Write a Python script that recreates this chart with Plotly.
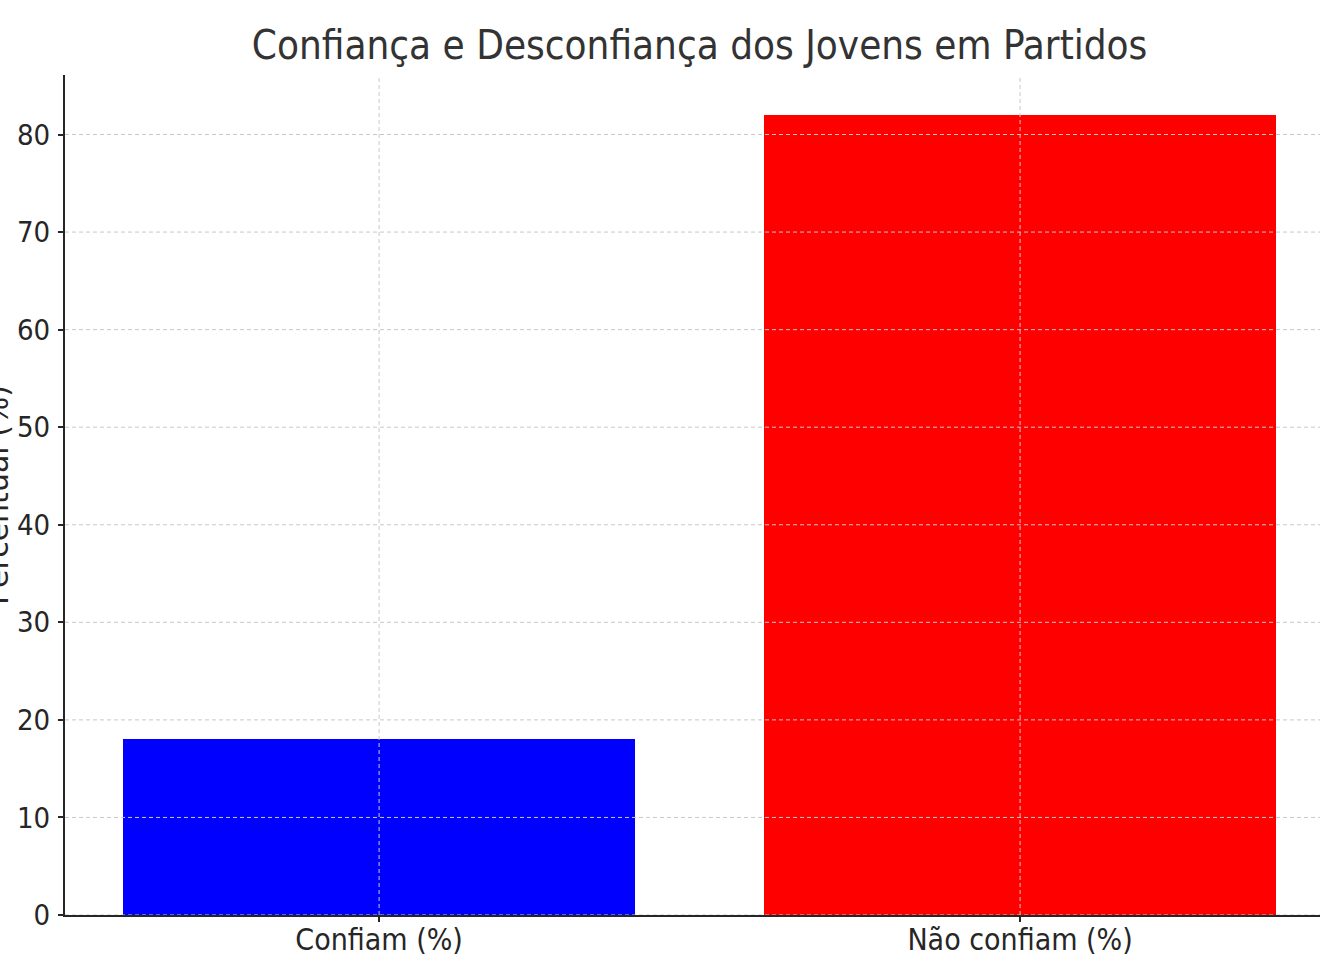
import plotly.graph_objects as go

categories = ["Confiam (%)", "Não confiam (%)"]
values = [18, 82]
colors = ["#0000ff", "#ff0000"]
y_ticks = [0, 10, 20, 30, 40, 50, 60, 70, 80]

title_text = "Confiança e Desconfiança dos Jovens em Partidos"
y_label = "Percentual (%)"

FONT = "DejaVu Sans Condensed, DejaVu Sans, sans-serif"
FONT_REG = "DejaVu Sans, sans-serif"
W, H = 1320, 974
ML, MR, MT, MB = 65, 0, 75, 59

fig = go.Figure()
fig.add_trace(go.Bar(
    x=list(range(len(categories))), y=values,
    marker=dict(color=colors, line=dict(width=0)),
    width=0.8, showlegend=False,
))

grid = dict(color="#c8c8c8", width=1, dash="4px,3px")
shapes = []
for v in y_ticks:
    shapes.append(dict(type="line", xref="paper", yref="y", x0=0, x1=1, y0=v, y1=v,
                       line=grid, layer="above"))
for i in range(len(categories)):
    shapes.append(dict(type="line", xref="x", yref="paper", x0=i, x1=i, y0=0, y1=1,
                       line=grid, layer="above"))

ymax = max(values) * 1.05
fig.update_layout(
    width=W, height=H,
    margin=dict(l=ML, r=MR, t=MT, b=MB, pad=0),
    paper_bgcolor="white", plot_bgcolor="white",
    font=dict(family=FONT, color="#262626", size=30),
    bargap=0,
    shapes=shapes,
    title=dict(text=title_text, x=0.53, xref="container", xanchor="center",
               y=1 - 45 / H, yref="container", yanchor="middle",
               font=dict(family=FONT, size=40, color="#333333")),
    xaxis=dict(
        range=[-0.49, -0.49 + (W - ML) / 641.0],
        tickmode="array", tickvals=list(range(len(categories))), ticktext=categories,
        showgrid=False, zeroline=False,
        showline=True, linecolor="#262626", linewidth=2,
        ticks="outside", ticklen=5, tickwidth=1.5, tickcolor="#262626",
        tickfont=dict(family=FONT, size=30, color="#262626"),
        ticklabelstandoff=-8,
        layer="above traces",
    ),
    yaxis=dict(
        range=[0, ymax],
        tickmode="array", tickvals=y_ticks,
        showgrid=False, zeroline=False,
        showline=True, linecolor="#262626", linewidth=2,
        ticks="outside", ticklen=5, tickwidth=1.5, tickcolor="#262626",
        tickfont=dict(family=FONT, size=29, color="#262626"),
        ticklabelstandoff=2,
        layer="above traces",
    ),
    annotations=[dict(
        text=y_label, textangle=-90, showarrow=False,
        xref="paper", yref="paper", x=(-3 - ML) / (W - ML - MR), y=0.5,
        xanchor="center", yanchor="middle",
        font=dict(family=FONT_REG, size=30, color="#262626"),
    )],
)

fig.write_html(
    "out.html",
    config={"displayModeBar": False},
    post_script="document.body.style.margin='0';document.body.style.overflow='hidden';",
)
